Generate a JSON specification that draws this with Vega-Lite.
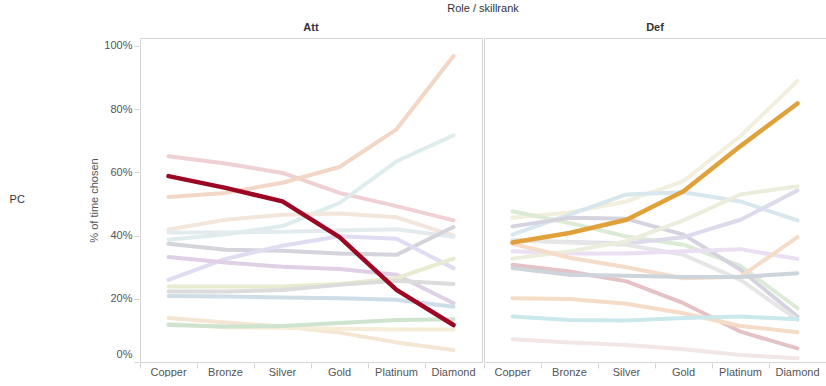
{
  "$schema": "https://vega.github.io/schema/vega-lite/v6.json",
  "padding": {"left": 9, "top": 3, "right": 4, "bottom": 0},
  "background": "white",
  "data": {"values": [
    {"platform":"PC","role":"Att","op":"A00","rank":"Copper","pct":58.8},{"platform":"PC","role":"Att","op":"A00","rank":"Bronze","pct":55.1},{"platform":"PC","role":"Att","op":"A00","rank":"Silver","pct":50.8},{"platform":"PC","role":"Att","op":"A00","rank":"Gold","pct":39.5},{"platform":"PC","role":"Att","op":"A00","rank":"Platinum","pct":22.8},{"platform":"PC","role":"Att","op":"A00","rank":"Diamond","pct":11.7},
    {"platform":"PC","role":"Att","op":"A01","rank":"Copper","pct":65.1},{"platform":"PC","role":"Att","op":"A01","rank":"Bronze","pct":62.8},{"platform":"PC","role":"Att","op":"A01","rank":"Silver","pct":59.8},{"platform":"PC","role":"Att","op":"A01","rank":"Gold","pct":53.5},{"platform":"PC","role":"Att","op":"A01","rank":"Platinum","pct":49.3},{"platform":"PC","role":"Att","op":"A01","rank":"Diamond","pct":44.8},
    {"platform":"PC","role":"Att","op":"A02","rank":"Copper","pct":52.2},{"platform":"PC","role":"Att","op":"A02","rank":"Bronze","pct":53.5},{"platform":"PC","role":"Att","op":"A02","rank":"Silver","pct":56.7},{"platform":"PC","role":"Att","op":"A02","rank":"Gold","pct":61.7},{"platform":"PC","role":"Att","op":"A02","rank":"Platinum","pct":73.6},{"platform":"PC","role":"Att","op":"A02","rank":"Diamond","pct":96.8},
    {"platform":"PC","role":"Att","op":"A03","rank":"Copper","pct":38.7},{"platform":"PC","role":"Att","op":"A03","rank":"Bronze","pct":40.4},{"platform":"PC","role":"Att","op":"A03","rank":"Silver","pct":43.0},{"platform":"PC","role":"Att","op":"A03","rank":"Gold","pct":50.3},{"platform":"PC","role":"Att","op":"A03","rank":"Platinum","pct":63.5},{"platform":"PC","role":"Att","op":"A03","rank":"Diamond","pct":71.7},
    {"platform":"PC","role":"Att","op":"A04","rank":"Copper","pct":41.9},{"platform":"PC","role":"Att","op":"A04","rank":"Bronze","pct":45.0},{"platform":"PC","role":"Att","op":"A04","rank":"Silver","pct":46.6},{"platform":"PC","role":"Att","op":"A04","rank":"Gold","pct":47.0},{"platform":"PC","role":"Att","op":"A04","rank":"Platinum","pct":45.8},{"platform":"PC","role":"Att","op":"A04","rank":"Diamond","pct":40.0},
    {"platform":"PC","role":"Att","op":"A05","rank":"Copper","pct":41.0},{"platform":"PC","role":"Att","op":"A05","rank":"Bronze","pct":41.0},{"platform":"PC","role":"Att","op":"A05","rank":"Silver","pct":41.2},{"platform":"PC","role":"Att","op":"A05","rank":"Gold","pct":41.6},{"platform":"PC","role":"Att","op":"A05","rank":"Platinum","pct":42.0},{"platform":"PC","role":"Att","op":"A05","rank":"Diamond","pct":39.6},
    {"platform":"PC","role":"Att","op":"A06","rank":"Copper","pct":37.4},{"platform":"PC","role":"Att","op":"A06","rank":"Bronze","pct":35.5},{"platform":"PC","role":"Att","op":"A06","rank":"Silver","pct":35.2},{"platform":"PC","role":"Att","op":"A06","rank":"Gold","pct":34.3},{"platform":"PC","role":"Att","op":"A06","rank":"Platinum","pct":33.9},{"platform":"PC","role":"Att","op":"A06","rank":"Diamond","pct":42.7},
    {"platform":"PC","role":"Att","op":"A07","rank":"Copper","pct":26.0},{"platform":"PC","role":"Att","op":"A07","rank":"Bronze","pct":32.6},{"platform":"PC","role":"Att","op":"A07","rank":"Silver","pct":36.8},{"platform":"PC","role":"Att","op":"A07","rank":"Gold","pct":39.8},{"platform":"PC","role":"Att","op":"A07","rank":"Platinum","pct":39.0},{"platform":"PC","role":"Att","op":"A07","rank":"Diamond","pct":29.7},
    {"platform":"PC","role":"Att","op":"A08","rank":"Copper","pct":33.2},{"platform":"PC","role":"Att","op":"A08","rank":"Bronze","pct":31.5},{"platform":"PC","role":"Att","op":"A08","rank":"Silver","pct":30.1},{"platform":"PC","role":"Att","op":"A08","rank":"Gold","pct":29.4},{"platform":"PC","role":"Att","op":"A08","rank":"Platinum","pct":27.6},{"platform":"PC","role":"Att","op":"A08","rank":"Diamond","pct":18.6},
    {"platform":"PC","role":"Att","op":"A09","rank":"Copper","pct":23.9},{"platform":"PC","role":"Att","op":"A09","rank":"Bronze","pct":23.9},{"platform":"PC","role":"Att","op":"A09","rank":"Silver","pct":23.9},{"platform":"PC","role":"Att","op":"A09","rank":"Gold","pct":24.7},{"platform":"PC","role":"Att","op":"A09","rank":"Platinum","pct":26.5},{"platform":"PC","role":"Att","op":"A09","rank":"Diamond","pct":32.7},
    {"platform":"PC","role":"Att","op":"A10","rank":"Copper","pct":22.3},{"platform":"PC","role":"Att","op":"A10","rank":"Bronze","pct":22.3},{"platform":"PC","role":"Att","op":"A10","rank":"Silver","pct":22.8},{"platform":"PC","role":"Att","op":"A10","rank":"Gold","pct":24.4},{"platform":"PC","role":"Att","op":"A10","rank":"Platinum","pct":25.7},{"platform":"PC","role":"Att","op":"A10","rank":"Diamond","pct":24.7},
    {"platform":"PC","role":"Att","op":"A11","rank":"Copper","pct":20.9},{"platform":"PC","role":"Att","op":"A11","rank":"Bronze","pct":20.7},{"platform":"PC","role":"Att","op":"A11","rank":"Silver","pct":20.4},{"platform":"PC","role":"Att","op":"A11","rank":"Gold","pct":20.2},{"platform":"PC","role":"Att","op":"A11","rank":"Platinum","pct":19.7},{"platform":"PC","role":"Att","op":"A11","rank":"Diamond","pct":17.5},
    {"platform":"PC","role":"Att","op":"A12","rank":"Copper","pct":13.9},{"platform":"PC","role":"Att","op":"A12","rank":"Bronze","pct":12.5},{"platform":"PC","role":"Att","op":"A12","rank":"Silver","pct":11.2},{"platform":"PC","role":"Att","op":"A12","rank":"Gold","pct":9.3},{"platform":"PC","role":"Att","op":"A12","rank":"Platinum","pct":6.2},{"platform":"PC","role":"Att","op":"A12","rank":"Diamond","pct":3.8},
    {"platform":"PC","role":"Att","op":"A13","rank":"Copper","pct":12.0},{"platform":"PC","role":"Att","op":"A13","rank":"Bronze","pct":11.0},{"platform":"PC","role":"Att","op":"A13","rank":"Silver","pct":10.8},{"platform":"PC","role":"Att","op":"A13","rank":"Gold","pct":10.5},{"platform":"PC","role":"Att","op":"A13","rank":"Platinum","pct":10.3},{"platform":"PC","role":"Att","op":"A13","rank":"Diamond","pct":10.3},
    {"platform":"PC","role":"Att","op":"A14","rank":"Copper","pct":11.7},{"platform":"PC","role":"Att","op":"A14","rank":"Bronze","pct":11.2},{"platform":"PC","role":"Att","op":"A14","rank":"Silver","pct":11.4},{"platform":"PC","role":"Att","op":"A14","rank":"Gold","pct":12.3},{"platform":"PC","role":"Att","op":"A14","rank":"Platinum","pct":13.3},{"platform":"PC","role":"Att","op":"A14","rank":"Diamond","pct":13.5},
    {"platform":"PC","role":"Def","op":"D00","rank":"Copper","pct":37.8},{"platform":"PC","role":"Def","op":"D00","rank":"Bronze","pct":40.8},{"platform":"PC","role":"Def","op":"D00","rank":"Silver","pct":45.0},{"platform":"PC","role":"Def","op":"D00","rank":"Gold","pct":54.0},{"platform":"PC","role":"Def","op":"D00","rank":"Platinum","pct":68.3},{"platform":"PC","role":"Def","op":"D00","rank":"Diamond","pct":81.8},
    {"platform":"PC","role":"Def","op":"D01","rank":"Copper","pct":45.6},{"platform":"PC","role":"Def","op":"D01","rank":"Bronze","pct":47.3},{"platform":"PC","role":"Def","op":"D01","rank":"Silver","pct":50.8},{"platform":"PC","role":"Def","op":"D01","rank":"Gold","pct":57.2},{"platform":"PC","role":"Def","op":"D01","rank":"Platinum","pct":71.5},{"platform":"PC","role":"Def","op":"D01","rank":"Diamond","pct":88.9},
    {"platform":"PC","role":"Def","op":"D02","rank":"Copper","pct":40.3},{"platform":"PC","role":"Def","op":"D02","rank":"Bronze","pct":46.6},{"platform":"PC","role":"Def","op":"D02","rank":"Silver","pct":53.0},{"platform":"PC","role":"Def","op":"D02","rank":"Gold","pct":53.7},{"platform":"PC","role":"Def","op":"D02","rank":"Platinum","pct":50.8},{"platform":"PC","role":"Def","op":"D02","rank":"Diamond","pct":44.8},
    {"platform":"PC","role":"Def","op":"D03","rank":"Copper","pct":47.7},{"platform":"PC","role":"Def","op":"D03","rank":"Bronze","pct":44.0},{"platform":"PC","role":"Def","op":"D03","rank":"Silver","pct":39.7},{"platform":"PC","role":"Def","op":"D03","rank":"Gold","pct":37.1},{"platform":"PC","role":"Def","op":"D03","rank":"Platinum","pct":30.4},{"platform":"PC","role":"Def","op":"D03","rank":"Diamond","pct":17.0},
    {"platform":"PC","role":"Def","op":"D04","rank":"Copper","pct":42.9},{"platform":"PC","role":"Def","op":"D04","rank":"Bronze","pct":45.6},{"platform":"PC","role":"Def","op":"D04","rank":"Silver","pct":45.3},{"platform":"PC","role":"Def","op":"D04","rank":"Gold","pct":40.3},{"platform":"PC","role":"Def","op":"D04","rank":"Platinum","pct":29.2},{"platform":"PC","role":"Def","op":"D04","rank":"Diamond","pct":14.4},
    {"platform":"PC","role":"Def","op":"D05","rank":"Copper","pct":38.5},{"platform":"PC","role":"Def","op":"D05","rank":"Bronze","pct":38.0},{"platform":"PC","role":"Def","op":"D05","rank":"Silver","pct":37.5},{"platform":"PC","role":"Def","op":"D05","rank":"Gold","pct":39.5},{"platform":"PC","role":"Def","op":"D05","rank":"Platinum","pct":45.0},{"platform":"PC","role":"Def","op":"D05","rank":"Diamond","pct":54.3},
    {"platform":"PC","role":"Def","op":"D06","rank":"Copper","pct":38.5},{"platform":"PC","role":"Def","op":"D06","rank":"Bronze","pct":37.8},{"platform":"PC","role":"Def","op":"D06","rank":"Silver","pct":37.1},{"platform":"PC","role":"Def","op":"D06","rank":"Gold","pct":33.9},{"platform":"PC","role":"Def","op":"D06","rank":"Platinum","pct":26.0},{"platform":"PC","role":"Def","op":"D06","rank":"Diamond","pct":13.3},
    {"platform":"PC","role":"Def","op":"D07","rank":"Copper","pct":35.0},{"platform":"PC","role":"Def","op":"D07","rank":"Bronze","pct":34.3},{"platform":"PC","role":"Def","op":"D07","rank":"Silver","pct":34.3},{"platform":"PC","role":"Def","op":"D07","rank":"Gold","pct":35.0},{"platform":"PC","role":"Def","op":"D07","rank":"Platinum","pct":35.7},{"platform":"PC","role":"Def","op":"D07","rank":"Diamond","pct":32.6},
    {"platform":"PC","role":"Def","op":"D08","rank":"Copper","pct":32.7},{"platform":"PC","role":"Def","op":"D08","rank":"Bronze","pct":35.0},{"platform":"PC","role":"Def","op":"D08","rank":"Silver","pct":38.2},{"platform":"PC","role":"Def","op":"D08","rank":"Gold","pct":44.8},{"platform":"PC","role":"Def","op":"D08","rank":"Platinum","pct":53.0},{"platform":"PC","role":"Def","op":"D08","rank":"Diamond","pct":55.6},
    {"platform":"PC","role":"Def","op":"D09","rank":"Copper","pct":37.4},{"platform":"PC","role":"Def","op":"D09","rank":"Bronze","pct":33.0},{"platform":"PC","role":"Def","op":"D09","rank":"Silver","pct":30.0},{"platform":"PC","role":"Def","op":"D09","rank":"Gold","pct":26.5},{"platform":"PC","role":"Def","op":"D09","rank":"Platinum","pct":27.0},{"platform":"PC","role":"Def","op":"D09","rank":"Diamond","pct":39.5},
    {"platform":"PC","role":"Def","op":"D10","rank":"Copper","pct":30.8},{"platform":"PC","role":"Def","op":"D10","rank":"Bronze","pct":28.6},{"platform":"PC","role":"Def","op":"D10","rank":"Silver","pct":25.5},{"platform":"PC","role":"Def","op":"D10","rank":"Gold","pct":18.6},{"platform":"PC","role":"Def","op":"D10","rank":"Platinum","pct":9.6},{"platform":"PC","role":"Def","op":"D10","rank":"Diamond","pct":4.3},
    {"platform":"PC","role":"Def","op":"D11","rank":"Copper","pct":29.7},{"platform":"PC","role":"Def","op":"D11","rank":"Bronze","pct":27.6},{"platform":"PC","role":"Def","op":"D11","rank":"Silver","pct":27.3},{"platform":"PC","role":"Def","op":"D11","rank":"Gold","pct":26.9},{"platform":"PC","role":"Def","op":"D11","rank":"Platinum","pct":26.9},{"platform":"PC","role":"Def","op":"D11","rank":"Diamond","pct":28.1},
    {"platform":"PC","role":"Def","op":"D12","rank":"Copper","pct":20.2},{"platform":"PC","role":"Def","op":"D12","rank":"Bronze","pct":19.9},{"platform":"PC","role":"Def","op":"D12","rank":"Silver","pct":18.4},{"platform":"PC","role":"Def","op":"D12","rank":"Gold","pct":15.4},{"platform":"PC","role":"Def","op":"D12","rank":"Platinum","pct":11.4},{"platform":"PC","role":"Def","op":"D12","rank":"Diamond","pct":9.4},
    {"platform":"PC","role":"Def","op":"D13","rank":"Copper","pct":14.4},{"platform":"PC","role":"Def","op":"D13","rank":"Bronze","pct":13.3},{"platform":"PC","role":"Def","op":"D13","rank":"Silver","pct":13.1},{"platform":"PC","role":"Def","op":"D13","rank":"Gold","pct":13.9},{"platform":"PC","role":"Def","op":"D13","rank":"Platinum","pct":14.4},{"platform":"PC","role":"Def","op":"D13","rank":"Diamond","pct":13.5},
    {"platform":"PC","role":"Def","op":"D14","rank":"Copper","pct":7.2},{"platform":"PC","role":"Def","op":"D14","rank":"Bronze","pct":6.2},{"platform":"PC","role":"Def","op":"D14","rank":"Silver","pct":5.4},{"platform":"PC","role":"Def","op":"D14","rank":"Gold","pct":4.0},{"platform":"PC","role":"Def","op":"D14","rank":"Platinum","pct":2.2},{"platform":"PC","role":"Def","op":"D14","rank":"Diamond","pct":1.2}
  ]},
  "facet": {
    "row": {"field": "platform", "type": "nominal", "title": null,
      "header": {"labelAngle": 0, "labelOrient": "left", "labelAlign": "left", "labelFontSize": 11, "labelColor": "#333333", "labelPadding": 64}},
    "column": {"field": "role", "type": "nominal", "title": "Role / skillrank",
      "header": {"titleFontSize": 11, "titleFontWeight": "normal", "titleColor": "#333333", "titlePadding": -2,
        "labelFontSize": 11, "labelFontWeight": "bold", "labelColor": "#333333", "labelPadding": 4}}
  },
  "spacing": 0,
  "spec": {
    "width": 342,
    "height": 324,
    "encoding": {
      "x": {"field": "rank", "type": "ordinal", "bandPosition": 0.5,
        "sort": ["Copper", "Bronze", "Silver", "Gold", "Platinum", "Diamond"],
        "scale": {"type": "band", "paddingInner": 0, "paddingOuter": 0},
        "axis": {"title": null, "labelAngle": 0, "bandPosition": 0, "tickSize": 5, "labelPadding": -2, "domain": false,
          "tickColor": "#d4d4d4", "labelColor": "#555555", "labelFontSize": 11, "grid": false}},
      "y": {"field": "pct", "type": "quantitative",
        "scale": {"domain": [0, 102.5], "nice": false},
        "axis": {"title": "% of time chosen", "values": [0, 20, 40, 60, 80, 100], "labelExpr": "datum.value + '%'",
          "labelFlush": true, "labelFlushOffset": -3, "tickSize": 5, "labelPadding": 2, "domain": false, "grid": false, "titlePadding": 4,
          "tickColor": "#d4d4d4", "labelColor": "#555555", "labelFontSize": 11, "titleColor": "#555555",
          "titleFontSize": 11, "titleFontWeight": "normal"}},
      "color": {"field": "op", "type": "nominal", "legend": null,
        "scale": {
          "domain": ["A00","A01","A02","A03","A04","A05","A06","A07","A08","A09","A10","A11","A12","A13","A14",
                     "D00","D01","D02","D03","D04","D05","D06","D07","D08","D09","D10","D11","D12","D13","D14"],
          "range": ["#9c0824","#efd0d3","#f3d7c6","#deecee","#f3e6dc","#e4ebee","#d4d4dc","#e0dcf2","#dfd0e6","#e8ebcf","#dcdcdc","#cfdde8","#f4e6d2","#f6ecd8","#cfe4cf",
                    "#e0a03a","#f3efde","#d8e7ee","#dcebd6","#d6d3e0","#dddaec","#e6e6e6","#ebdff4","#ebeedc","#f5dcc8","#e4c2c6","#cdd4dc","#f5dcc6","#cbe8ec","#f3e6e6"]
        }}
    },
    "layer": [
      {"transform": [{"filter": "datum.op != 'A00' && datum.op != 'D00'"}],
       "mark": {"type": "line", "strokeWidth": 4, "strokeCap": "round", "strokeJoin": "round"}},
      {"transform": [{"filter": "datum.op == 'A00' || datum.op == 'D00'"}],
       "mark": {"type": "line", "strokeWidth": 4.5, "strokeCap": "round", "strokeJoin": "round"}}
    ]
  },
  "config": {
    "font": "Liberation Sans",
    "view": {"stroke": "#d4d4d4"},
    "axis": {"labelFont": "Liberation Sans", "titleFont": "Liberation Sans"},
    "header": {"labelFont": "Liberation Sans", "titleFont": "Liberation Sans"}
  }
}
